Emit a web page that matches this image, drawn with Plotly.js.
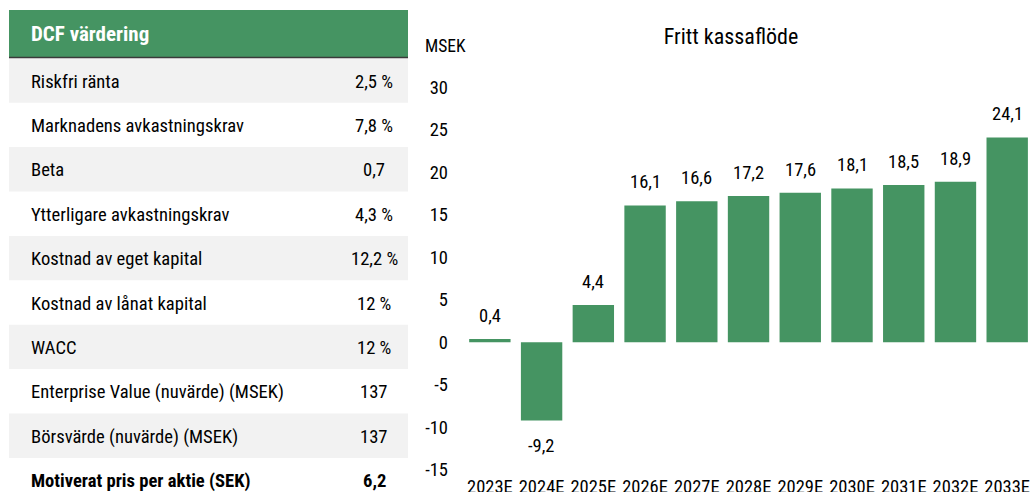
<!DOCTYPE html>
<html>
<head>
<meta charset="utf-8">
<script src="https://cdn.plot.ly/plotly-3.0.1.min.js"></script>
<style>
html,body{margin:0;padding:0;background:#fff;}
#chart{width:1031px;height:492px;}
</style>
</head>
<body>
<div id="chart"></div>
<script>
// ---- data ----
const tableTitle = "DCF värdering";
const tableLabels = [
  "Riskfri ränta",
  "Marknadens avkastningskrav",
  "Beta",
  "Ytterligare avkastningskrav",
  "Kostnad av eget kapital",
  "Kostnad av lånat kapital",
  "WACC",
  "Enterprise Value (nuvärde) (MSEK)",
  "Börsvärde (nuvärde) (MSEK)",
  "Motiverat pris per aktie (SEK)"
];
const tableValues = ["2,5 %", "7,8 %", "0,7", "4,3 %", "12,2 %", "12 %", "12 %", "137", "137", "6,2"];
const boldRows = [9];

const years = ["2023E","2024E","2025E","2026E","2027E","2028E","2029E","2030E","2031E","2032E","2033E"];
const fcf = [0.4, -9.2, 4.4, 16.1, 16.6, 17.2, 17.6, 18.1, 18.5, 18.9, 24.1];
const yTicks = [30, 25, 20, 15, 10, 5, 0, -5, -10, -15];
const chartTitle = "Fritt kassaflöde";
const unitLabel = "MSEK";

// ---- styling ----
const W = 1031, H = 492;
const FONT = '"Liberation Sans Narrow", "Arial Narrow", "Roboto Condensed", "DejaVu Sans Condensed", sans-serif';
const GREEN = '#459462';
const px = x => x / W;
const py = y => 1 - y / H;
const fmt = v => v.toFixed(1).replace('.', ',');

const shapes = [];
const annotations = [];

// table header
shapes.push({type:'rect', xref:'paper', yref:'paper', x0:px(9), x1:px(408), y0:py(57), y1:py(10),
  fillcolor:GREEN, line:{width:0}, layer:'below'});
shapes.push({type:'line', xref:'paper', yref:'paper', x0:px(9), x1:px(408), y0:py(57.5), y1:py(57.5),
  line:{color:'#3a3a3a', width:1.5}});
annotations.push({xref:'paper', yref:'paper', x:px(29), y:py(34), xanchor:'left', yanchor:'middle',
  text:'<b>'+tableTitle+'</b>', showarrow:false, font:{family:FONT, size:21, color:'#ffffff'}});

const rowTop = 58.3, rowH = 44.4;
tableLabels.forEach((lab, i) => {
  const top = rowTop + i * rowH;
  const bot = Math.min(top + rowH, H);
  if (i % 2 === 0) {
    shapes.push({type:'rect', xref:'paper', yref:'paper', x0:px(9), x1:px(408), y0:py(bot), y1:py(top),
      fillcolor:'#f2f2f2', line:{width:0}, layer:'below'});
  }
  const bold = boldRows.includes(i);
  const cy = top + rowH / 2 + 1;
  annotations.push({xref:'paper', yref:'paper', x:px(29), y:py(cy), xanchor:'left', yanchor:'middle',
    text: bold ? '<b>'+lab+'</b>' : lab, showarrow:false, font:{family:FONT, size:18.6, color:'#000'}});
  annotations.push({xref:'paper', yref:'paper', x:px(374), y:py(cy), xanchor:'center', yanchor:'middle',
    text: bold ? '<b>'+tableValues[i]+'</b>' : tableValues[i], showarrow:false, font:{family:FONT, size:18.6, color:'#000'}});
});

// unit label
annotations.push({xref:'paper', yref:'paper', x:px(445), y:py(46), xanchor:'center', yanchor:'middle',
  text:unitLabel, showarrow:false, font:{family:FONT, size:17.5, color:'#000'}});

// bar value labels
fcf.forEach((v, i) => {
  annotations.push({xref:'x', yref:'y', x:years[i], y:v, xanchor:'center',
    yanchor: v >= 0 ? 'bottom' : 'top', yshift: v >= 0 ? 10 : -12,
    text: fmt(v), showarrow:false, font:{family:FONT, size:18.5, color:'#000'}});
});

const trace = {
  type:'bar', x:years, y:fcf,
  marker:{color:GREEN, line:{width:0}},
  hoverinfo:'x+y'
};

const layout = {
  width:W, height:H,
  margin:{l:0, r:0, t:0, b:0, pad:0},
  paper_bgcolor:'#fff', plot_bgcolor:'#fff',
  showlegend:false,
  bargap:0.2,
  font:{family:FONT, color:'#000'},
  title:{text:chartTitle, x:px(731), xanchor:'center', xref:'paper',
    y:py(36), yanchor:'middle', yref:'paper', font:{family:FONT, size:22, color:'#000'}},
  xaxis:{domain:[px(464), 1], range:[-0.5, 10.46], type:'category',
    showgrid:false, zeroline:false, showline:false, ticks:'',
    ticklabelstandoff:4, tickfont:{family:FONT, size:18.5, color:'#000'}},
  yaxis:{domain:[py(469.8), py(87.3)], range:[-15, 30],
    showgrid:false, zeroline:false, showline:false, ticks:'',
    tickvals:yTicks, ticktext:yTicks.map(t => String(t)),
    ticklabelstandoff:15, tickfont:{family:FONT, size:18.5, color:'#000'}},
  shapes:shapes,
  annotations:annotations
};

Plotly.newPlot('chart', [trace], layout, {displayModeBar:false, staticPlot:true});
</script>
</body>
</html>
